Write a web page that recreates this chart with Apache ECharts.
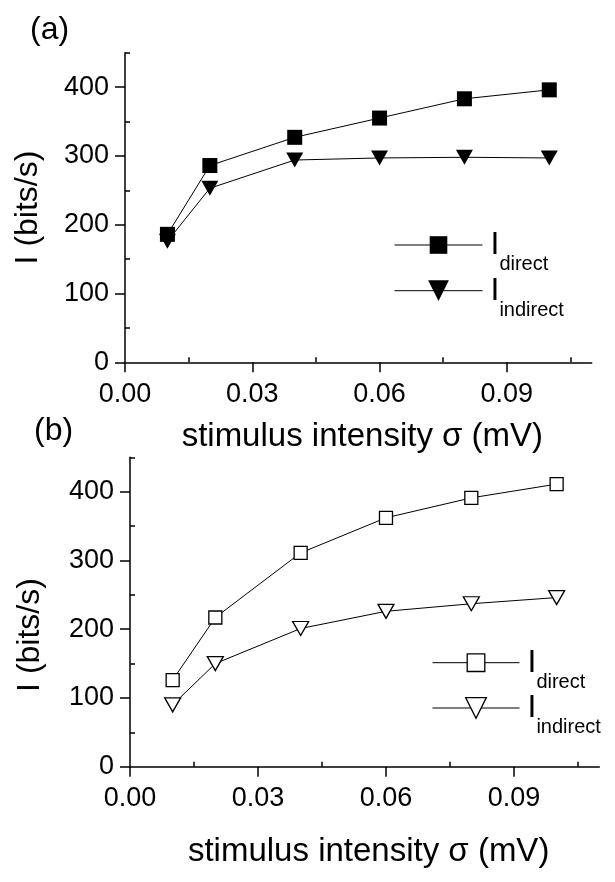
<!DOCTYPE html>
<html><head><meta charset="utf-8">
<script src="https://cdn.jsdelivr.net/npm/echarts@6/dist/echarts.min.js"></script>
<style>html,body{margin:0;padding:0;background:#fff}#c{width:615px;height:882px}</style>
</head><body><div id="c"></div>
<script>
// ---- data ----
const sigma = [0.01, 0.02, 0.04, 0.06, 0.08, 0.10];
const aDirect = [186, 286, 327, 355, 383, 396];
const aIndirect = [176, 253, 294, 297, 298, 297];
const bDirect = [126, 217, 311, 362, 391, 411];
const bIndirect = [90, 150, 201, 226, 237, 246];
const xMajor = [0, 0.03, 0.06, 0.09];
const xMinor = [0.015, 0.045, 0.075, 0.105];
const yMajor = [0, 100, 200, 300, 400];
const yMinor = [50, 150, 250, 350, 450];
const xTitle = 'stimulus intensity σ (mV)';
const yTitle = 'I (bits/s)';

const FONT = "'Liberation Sans', Arial, Helvetica, sans-serif";
const DOWN_TRI = 'path://M0,0L10,0L5,9Z';

function pts(arr) { return sigma.map((x, i) => [x, arr[i]]); }

function xAxes(grid, nameGap, labelMargin) {
  return [
    {
      type: 'value', gridIndex: grid, min: 0, max: 0.11,
      axisLine: { show: true, lineStyle: { color: '#000', width: 1.5 } },
      axisTick: { show: true, customValues: xMajor, length: 10, lineStyle: { color: '#000', width: 1.5 } },
      axisLabel: { customValues: xMajor, formatter: v => v.toFixed(2), color: '#000', fontSize: 27, fontFamily: FONT, margin: labelMargin },
      splitLine: { show: false },
      name: xTitle, nameLocation: 'middle', nameGap: nameGap,
      nameTextStyle: { color: '#000', fontSize: 33, fontFamily: FONT, padding: [0, 0, 0, 8] }
    },
    {
      type: 'value', gridIndex: grid, min: 0, max: 0.11,
      axisLine: { show: false },
      axisTick: { show: true, customValues: xMinor, length: 5, lineStyle: { color: '#000', width: 1.5 } },
      axisLabel: { show: false },
      splitLine: { show: false }
    }
  ];
}
function yAxes(grid, nameGap, namePad) {
  return [
    {
      type: 'value', gridIndex: grid, min: 0, max: 450,
      axisLine: { show: true, lineStyle: { color: '#000', width: 1.5 } },
      axisTick: { show: true, customValues: yMajor, length: 10, lineStyle: { color: '#000', width: 1.5 } },
      axisLabel: { customValues: yMajor, color: '#000', fontSize: 27, fontFamily: FONT, margin: 16 },
      splitLine: { show: false },
      name: yTitle, nameLocation: 'middle', nameGap: nameGap, nameRotate: 90,
      nameTextStyle: { color: '#000', fontSize: 32, fontFamily: FONT, padding: namePad }
    },
    {
      type: 'value', gridIndex: grid, min: 0, max: 450,
      axisLine: { show: false },
      axisTick: { show: true, customValues: yMinor, length: 5, lineStyle: { color: '#000', width: 1.5 } },
      axisLabel: { show: false },
      splitLine: { show: false }
    }
  ];
}

const subs = { a_direct: 'direct', a_indirect: 'indirect', b_direct: 'direct', b_indirect: 'indirect' };
function legend(name, left, top, itemWidth, itemHeight, style) {
  return {
    data: [{ name: name, itemStyle: style }],
    orient: 'vertical', left: left, top: top, padding: 0,
    itemWidth: itemWidth, itemHeight: itemHeight,
    selectedMode: false,
    lineStyle: { color: '#000', width: 1 },
    formatter: n => '{i|I}{s|' + subs[n] + '}',
    textStyle: {
      rich: {
        i: { fontSize: 32, lineHeight: 32, fontFamily: FONT, color: '#000', padding: [0, 0, 0, 3] },
        s: { fontSize: 20, lineHeight: 20, fontFamily: FONT, color: '#000', padding: [39, 0, 0, 0] }
      }
    }
  };
}

const filled = { color: '#000', borderColor: '#000', borderWidth: 0 };
const open = { color: '#fff', borderColor: '#000', borderWidth: 1.3 };

const option = {
  animation: false,
  backgroundColor: '#fff',
  textStyle: { fontFamily: FONT },
  title: [
    { text: '(a)', left: 25, top: 9, textStyle: { fontSize: 32, fontWeight: 'normal', color: '#000', fontFamily: FONT } },
    { text: '(b)', left: 29, top: 410, textStyle: { fontSize: 32, fontWeight: 'normal', color: '#000', fontFamily: FONT } }
  ],
  grid: [
    { left: 125, top: 52.7, width: 466.7, height: 309.6 },
    { left: 130, top: 457.3, width: 469.3, height: 309.4 }
  ],
  xAxis: [...xAxes(0, 58, 19), ...xAxes(1, 69, 18)],
  yAxis: [...yAxes(0, 81, 0), ...yAxes(1, 84, [0, 46, 0, 0])],
  legend: [
    legend('a_direct', 394, 215.5, 88, 22, filled),
    legend('a_indirect', 394, 261.2, 88, 26, filled),
    legend('b_direct', 432, 633.2, 87, 22, open),
    legend('b_indirect', 432, 678.5, 87, 26, open)
  ],
  series: [
    { name: 'a_direct', type: 'line', xAxisIndex: 0, yAxisIndex: 0, data: pts(aDirect),
      symbol: 'rect', symbolSize: 15, lineStyle: { color: '#000', width: 1 }, itemStyle: filled },
    { name: 'a_indirect', type: 'line', xAxisIndex: 0, yAxisIndex: 0, data: pts(aIndirect),
      symbol: DOWN_TRI, symbolSize: [17, 15], lineStyle: { color: '#000', width: 1 }, itemStyle: filled },
    { name: 'b_direct', type: 'line', xAxisIndex: 2, yAxisIndex: 2, data: pts(bDirect),
      symbol: 'rect', symbolSize: 13, lineStyle: { color: '#000', width: 1 }, itemStyle: open },
    { name: 'b_indirect', type: 'line', xAxisIndex: 2, yAxisIndex: 2, data: pts(bIndirect),
      symbol: DOWN_TRI, symbolSize: [16, 14], lineStyle: { color: '#000', width: 1 }, itemStyle: open }
  ]
};
const chart = echarts.init(document.getElementById('c'), null, { renderer: 'canvas' });
chart.setOption(option);
</script>
</body></html>
